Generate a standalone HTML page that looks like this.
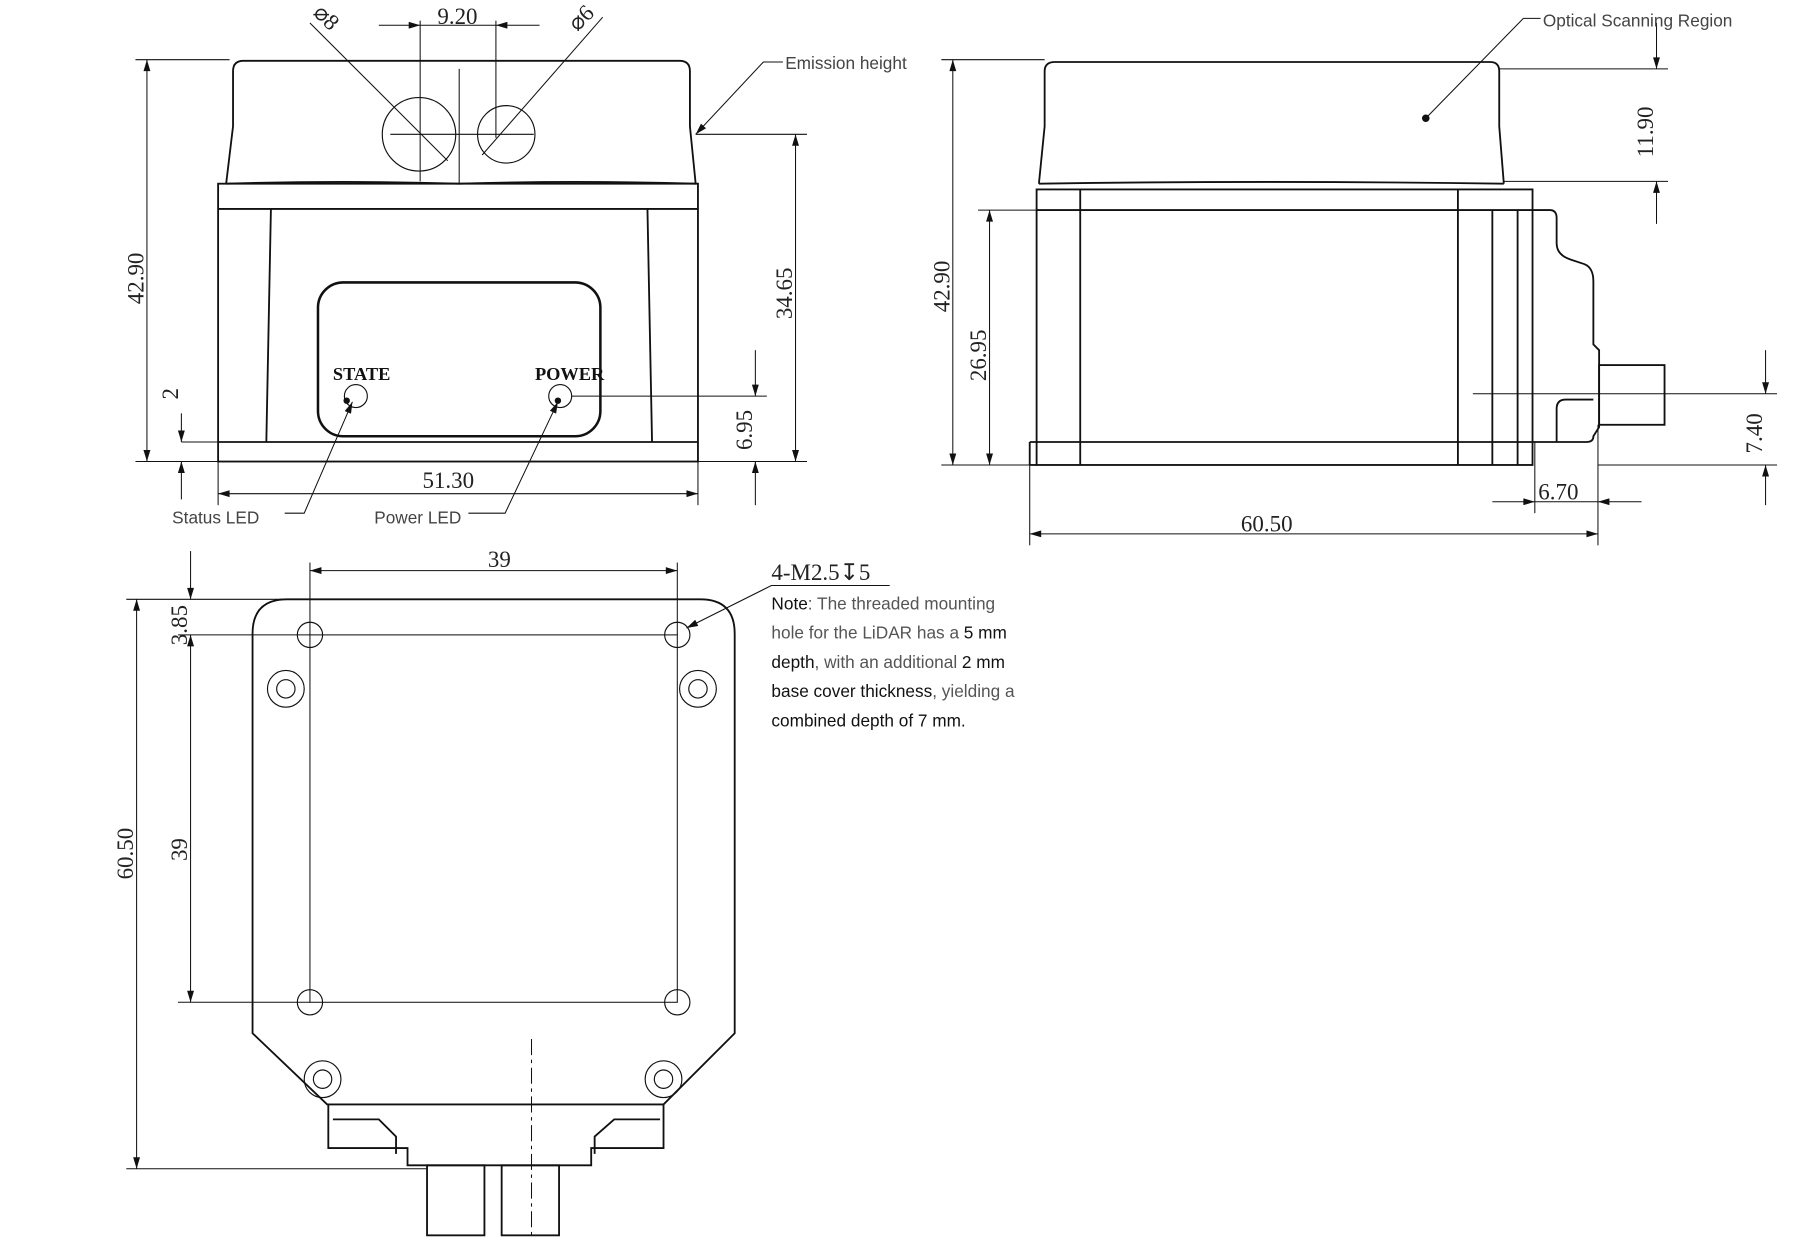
<!DOCTYPE html>
<html><head><meta charset="utf-8"><style>
html,body{margin:0;padding:0;background:#fff;}
svg{display:block}
text{font-family:"Liberation Serif",serif;fill:#222}
.s{font-family:"Liberation Sans",sans-serif;font-size:15px;fill:#444}
.n{font-family:"Liberation Sans",sans-serif;font-size:15px;fill:#555}
.b{fill:#111}
</style></head><body>
<svg width="1800" height="1256" viewBox="0 0 1568 1094" preserveAspectRatio="none" xmlns="http://www.w3.org/2000/svg">
<defs><marker id="a" viewBox="0 0 10 6" refX="10" refY="3" markerWidth="14" markerHeight="6" orient="auto-start-reverse" markerUnits="userSpaceOnUse"><path d="M0,0L10,3L0,6z" fill="#111"/></marker></defs>
<g fill="none" stroke="#111" stroke-width="1.6">
<!-- FRONT VIEW -->
<path d="M197,160 L203,110 L203,62 Q203,53 212,53 L592,53 Q601,53 601,62 L601,110 L606,160"/>
<path d="M197,160 Q300,157 400,160 Q500,157 606,160"/>
<rect x="190" y="160" width="418" height="242"/>
<line x1="190" y1="182" x2="608" y2="182"/>
<line x1="190" y1="385" x2="608" y2="385"/>
<line x1="236" y1="182" x2="232" y2="385"/><line x1="564" y1="182" x2="568" y2="385"/>
<rect x="277" y="246" width="246" height="134" rx="22" stroke-width="2.2"/>
<circle cx="365" cy="117" r="32" stroke-width="1"/><circle cx="441" cy="117" r="25" stroke-width="1"/>
<circle cx="310" cy="345" r="10" stroke-width="1"/><circle cx="488" cy="345" r="10" stroke-width="1"/>
<g stroke-width="0.9">
<line x1="366" y1="18" x2="366" y2="158"/><line x1="432" y1="18" x2="432" y2="120"/><line x1="400" y1="60" x2="400" y2="160"/>
<line x1="340" y1="117" x2="465" y2="117"/>
<line x1="330" y1="22" x2="366" y2="22" marker-end="url(#a)"/><line x1="470" y1="22" x2="432" y2="22" marker-end="url(#a)"/>
<line x1="366" y1="22" x2="432" y2="22"/>
<line x1="270" y1="20" x2="390" y2="140"/><line x1="525" y1="15" x2="420" y2="135"/>
<line x1="118" y1="52" x2="200" y2="52"/><line x1="118" y1="402" x2="190" y2="402"/>
<line x1="128" y1="52" x2="128" y2="402" marker-start="url(#a)" marker-end="url(#a)"/>
<line x1="606" y1="117" x2="703" y2="117"/><line x1="608" y1="402" x2="703" y2="402"/>
<line x1="693" y1="117" x2="693" y2="402" marker-start="url(#a)" marker-end="url(#a)"/>
<line x1="498" y1="345" x2="668" y2="345"/>
<line x1="658" y1="305" x2="658" y2="345" marker-end="url(#a)"/><line x1="658" y1="440" x2="658" y2="402" marker-end="url(#a)"/>
<line x1="158" y1="385" x2="190" y2="385"/>
<line x1="158" y1="360" x2="158" y2="385" marker-end="url(#a)"/><line x1="158" y1="435" x2="158" y2="402" marker-end="url(#a)"/>
<line x1="190" y1="402" x2="190" y2="440"/><line x1="608" y1="402" x2="608" y2="440"/>
<line x1="190" y1="430" x2="608" y2="430" marker-start="url(#a)" marker-end="url(#a)"/>
<polyline points="682,54 665,54 606,117" marker-end="url(#a)"/>
<polyline points="248,447 265,447 307,350" marker-end="url(#a)"/>
<polyline points="408,447 440,447 486,350" marker-end="url(#a)"/>
</g>
<!-- SIDE VIEW -->
<path d="M905,160 L910,110 L910,62 Q910,54 919,54 L1298,54 Q1306,54 1306,62 L1306,110 L1310,160"/>
<path d="M905,160 Q1100,157 1310,160"/>
<rect x="903" y="165" width="432" height="240"/>
<line x1="903" y1="183" x2="1335" y2="183"/><line x1="897" y1="385" x2="1335" y2="385"/>
<line x1="897" y1="385" x2="897" y2="405"/><line x1="897" y1="405" x2="903" y2="405"/>
<line x1="941" y1="165" x2="941" y2="405"/><line x1="1270" y1="165" x2="1270" y2="405"/>
<line x1="1300" y1="183" x2="1300" y2="405"/><line x1="1322" y1="183" x2="1322" y2="405"/>
<path d="M1335,183 L1350,183 Q1356,183 1356,190 L1356,212 Q1356,222 1368,226 L1380,230 Q1388,233 1388,245 L1388,300 L1393,305 L1393,372 L1388,380 Q1388,385 1382,385 L1335,385"/>
<path d="M1356,385 L1356,356 Q1356,348 1364,348 L1388,348"/>
<rect x="1393" y="318" width="57" height="52"/>
<g stroke-width="0.9">
<line x1="820" y1="52" x2="910" y2="52"/><line x1="820" y1="405" x2="903" y2="405"/>
<line x1="830" y1="52" x2="830" y2="405" marker-start="url(#a)" marker-end="url(#a)"/>
<line x1="852" y1="183" x2="903" y2="183"/>
<line x1="862" y1="183" x2="862" y2="405" marker-start="url(#a)" marker-end="url(#a)"/>
<line x1="1306" y1="60" x2="1453" y2="60"/><line x1="1310" y1="158" x2="1453" y2="158"/>
<line x1="1443" y1="20" x2="1443" y2="60" marker-end="url(#a)"/><line x1="1443" y1="195" x2="1443" y2="158" marker-end="url(#a)"/>
<line x1="1283" y1="343" x2="1548" y2="343"/><line x1="1392" y1="405" x2="1548" y2="405"/>
<line x1="1538" y1="305" x2="1538" y2="343" marker-end="url(#a)"/><line x1="1538" y1="440" x2="1538" y2="405" marker-end="url(#a)"/>
<line x1="1337" y1="385" x2="1337" y2="447"/><line x1="1392" y1="370" x2="1392" y2="475"/>
<line x1="1300" y1="437" x2="1337" y2="437" marker-end="url(#a)"/><line x1="1430" y1="437" x2="1392" y2="437" marker-end="url(#a)"/>
<line x1="1337" y1="437" x2="1392" y2="437"/>
<line x1="897" y1="405" x2="897" y2="475"/>
<line x1="897" y1="465" x2="1392" y2="465" marker-start="url(#a)" marker-end="url(#a)"/>
<polyline points="1342,16 1327,16 1242,103"/>
</g>
<circle cx="1242" cy="103" r="2.5" fill="#111"/>
<circle cx="302" cy="349" r="2" fill="#111"/><circle cx="486" cy="349" r="2" fill="#111"/>
<!-- BOTTOM VIEW -->
<path d="M250,522 L610,522 Q640,522 640,552 L640,900 L578,962 L285,962 L220,900 L220,552 Q220,522 250,522 Z"/>
<path d="M286,962 L286,1000 L355,1000 L355,1015 L515,1015 L515,1000 L578,1000 L578,962"/>
<path d="M290,975 L330,975 L345,990 L345,1005 M575,975 L535,975 L518,990 L518,1005"/>
<rect x="372" y="1015" width="50" height="61"/><rect x="437" y="1015" width="50" height="61"/>
<g stroke-width="1">
<circle cx="270" cy="553" r="11"/><circle cx="590" cy="553" r="11"/><circle cx="270" cy="873" r="11"/><circle cx="590" cy="873" r="11"/>
<circle cx="249" cy="600" r="16"/><circle cx="249" cy="600" r="8"/>
<circle cx="608" cy="600" r="16"/><circle cx="608" cy="600" r="8"/>
<circle cx="281" cy="940" r="16"/><circle cx="281" cy="940" r="8"/>
<circle cx="578" cy="940" r="16"/><circle cx="578" cy="940" r="8"/>
</g>
<g stroke-width="0.9">
<rect x="270" y="553" width="320" height="320"/>
<line x1="463" y1="905" x2="463" y2="1080" stroke-dasharray="14,4,3,4"/>
<line x1="270" y1="490" x2="270" y2="553"/><line x1="590" y1="490" x2="590" y2="553"/>
<line x1="270" y1="497" x2="590" y2="497" marker-start="url(#a)" marker-end="url(#a)"/>
<line x1="110" y1="522" x2="250" y2="522"/><line x1="110" y1="1018" x2="372" y2="1018"/>
<line x1="119" y1="522" x2="119" y2="1018" marker-start="url(#a)" marker-end="url(#a)"/>
<line x1="155" y1="553" x2="270" y2="553"/><line x1="155" y1="873" x2="270" y2="873"/>
<line x1="166" y1="553" x2="166" y2="873" marker-start="url(#a)" marker-end="url(#a)"/>
<line x1="166" y1="480" x2="166" y2="522" marker-end="url(#a)"/>
<polyline points="775,510 672,510 598,547" marker-end="url(#a)"/>
</g>
</g>
<!-- TEXT -->
<g font-size="20">
<text x="381" y="21">9.20</text>
<text transform="translate(272,12) rotate(45)">⌀8</text>
<text transform="translate(503,28) rotate(-45)">⌀6</text>
<text transform="translate(125,265) rotate(-90)">42.90</text>
<text transform="translate(690,278) rotate(-90)">34.65</text>
<text transform="translate(655,392) rotate(-90)">6.95</text>
<text transform="translate(155,348) rotate(-90)">2</text>
<text x="368" y="425">51.30</text>
<text transform="translate(827,272) rotate(-90)">42.90</text>
<text transform="translate(859,332) rotate(-90)">26.95</text>
<text transform="translate(1440,137) rotate(-90)">11.90</text>
<text transform="translate(1535,395) rotate(-90)">7.40</text>
<text x="1340" y="435">6.70</text>
<text x="1081" y="463">60.50</text>
<text x="425" y="494">39</text>
<text transform="translate(116,766) rotate(-90)">60.50</text>
<text transform="translate(163,750) rotate(-90)">39</text>
<text transform="translate(163,562) rotate(-90)">3.85</text>
<text x="672" y="505">4-M2.5↧5</text>
</g>
<text x="290" y="331" font-family="Liberation Sans" font-weight="bold" font-size="16" class="b">STATE</text>
<text x="466" y="331" font-family="Liberation Sans" font-weight="bold" font-size="16" class="b">POWER</text>
<text class="s" x="684" y="60">Emission height</text>
<text class="s" x="1344" y="23">Optical Scanning Region</text>
<text class="s" x="150" y="456">Status LED</text>
<text class="s" x="326" y="456">Power LED</text>
<g class="n">
<text class="n" x="672" y="531"><tspan fill="#111">Note</tspan>: The threaded mounting</text>
<text class="n" x="672" y="556">hole for the LiDAR has a <tspan fill="#111">5 mm</tspan></text>
<text class="n" x="672" y="582"><tspan fill="#111">depth</tspan>, with an additional <tspan fill="#111">2 mm</tspan></text>
<text class="n" x="672" y="607"><tspan fill="#111">base cover thickness</tspan>, yielding a</text>
<text class="n" x="672" y="633"><tspan fill="#111">combined depth of 7 mm.</tspan></text>
</g>
</svg>
</body></html>
